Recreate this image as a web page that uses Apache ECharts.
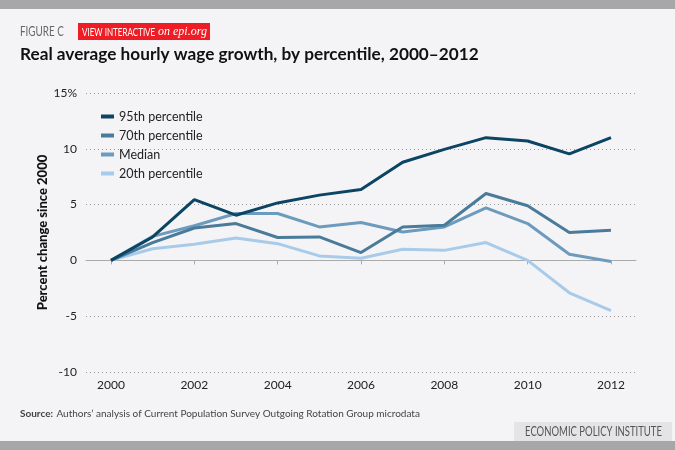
<!DOCTYPE html>
<html><head><meta charset="utf-8">
<script src="https://cdn.jsdelivr.net/npm/echarts@6/dist/echarts.min.js"></script>
<style>html,body{margin:0;padding:0;background:#f4f4f6}#c{width:675px;height:450px}</style>
</head><body><div id="c"></div>
<script>
const years = [2000,2001,2002,2003,2004,2005,2006,2007,2008,2009,2010,2011,2012];
const p95 = [0,2.1,5.45,4.05,5.15,5.85,6.35,8.8,9.95,11.0,10.7,9.55,11.0];
const p70 = [0,1.6,2.9,3.3,2.05,2.1,0.7,3.0,3.15,6.0,4.9,2.5,2.7];
const median = [0,2.15,3.1,4.2,4.2,3.0,3.4,2.55,3.0,4.7,3.3,0.55,-0.1];
const p20 = [0,1.05,1.45,2.0,1.5,0.4,0.2,1.0,0.9,1.6,0.0,-2.9,-4.5];
const seriesNames = ['95th percentile','70th percentile','Median','20th percentile'];
const xTickLabels = [2000,2002,2004,2006,2008,2010,2012];
const colors = ['#0c4464','#4a7b9b','#6d9bbd','#a8cbea'];
const FONT = 'Lato, "Open Sans", sans-serif';

function pairs(vals){ return years.map((y,i)=>[y, vals[i]]); }
const allVals = [p95,p70,median,p20];

const chart = echarts.init(document.getElementById('c'), null, {renderer:'canvas'});
chart.setOption({
  backgroundColor: '#f4f4f6',
  animation: false,
  color: colors,
  textStyle: {fontFamily: FONT},
  grid: {left: 86, right: 39, top: 93, bottom: 78},
  legend: {
    orient: 'vertical', left: 96, top: 105,
    data: seriesNames, icon: 'rect', itemWidth: 13, itemHeight: 4, itemGap: 6,
    textStyle: {fontFamily: FONT, fontSize: 12.5, color: '#222'}
  },
  xAxis: {
    type: 'value', min: 1999.4, max: 2012.6,
    axisLine: {show: true, lineStyle: {color: '#aaaaaa', width: 1}},
    axisTick: {show: true, customValues: xTickLabels, length: 4, lineStyle: {color: '#aaaaaa'}},
    axisLabel: {customValues: xTickLabels, formatter: v => String(v), fontFamily: FONT, fontSize: 12, color: '#222', margin: 7},
    splitLine: {show: false}
  },
  yAxis: {
    type: 'value', min: -10, max: 15, interval: 5,
    axisLine: {show: false}, axisTick: {show: false},
    axisLabel: {formatter: v => v === 15 ? '15%' : String(v), fontFamily: FONT, fontSize: 12, color: '#222', margin: 9},
    splitLine: {show: true, lineStyle: {color: '#9a9a9a', type: [1, 3], width: 1}},
    name: 'Percent change since 2000', nameLocation: 'middle', nameGap: 37, nameMoveOverlap: false,
    nameTextStyle: {fontFamily: FONT, fontWeight: 900, fontSize: 13, color: '#111'}
  },
  series: seriesNames.map((n,i)=>({
    name: n, type: 'line', data: pairs(allVals[i]), showSymbol: false, symbol: 'none',
    lineStyle: {width: 3, color: colors[i]}, z: 10 - i
  })),
  graphic: [
    {type: 'rect', x: 0, y: 0, shape: {width: 675, height: 9}, style: {fill: '#a7a7aa'}},
    {type: 'rect', x: 0, y: 441, shape: {width: 675, height: 9}, style: {fill: '#a7a7aa'}},
    {type: 'text', x: 20, y: 31.5, scaleX: 0.76, style: {text: 'FIGURE C', font: '13px ' + FONT, fill: '#666', verticalAlign: 'middle'}},
    {type: 'rect', x: 78, y: 23, shape: {width: 132, height: 17}, style: {fill: '#ee1c24'}},
    {type: 'text', x: 82, y: 32, scaleX: 0.73, style: {text: 'VIEW INTERACTIVE', font: '11px ' + FONT, fill: '#fff', verticalAlign: 'middle'}},
    {type: 'text', x: 158, y: 32, style: {text: 'on epi.org', font: 'italic 12px "Liberation Serif", serif', fill: '#fff', verticalAlign: 'middle'}},
    {type: 'text', x: 20, y: 54.5, style: {text: 'Real average hourly wage growth, by percentile, 2000\u20132012', font: 'bold 17.2px ' + FONT, fill: '#111', verticalAlign: 'middle'}},
    {type: 'text', x: 20, y: 414, style: {
      text: '{a|Source:} {b|Authors\u2019 analysis of Current Population Survey Outgoing Rotation Group microdata}', verticalAlign: 'middle',
      rich: {a: {fontFamily: FONT, fontWeight: 'bold', fontSize: 10, fill: '#444'},
             b: {fontFamily: FONT, fontSize: 10, fill: '#444'}}}},
    {type: 'rect', x: 514, y: 422, shape: {width: 158, height: 19}, style: {fill: '#e4e4e6'}},
    {type: 'text', x: 593.5, y: 431.5, scaleX: 0.76, style: {text: 'ECONOMIC POLICY INSTITUTE', font: '12.5px ' + FONT, fill: '#555', align: 'center', verticalAlign: 'middle'}}
  ]
});
</script></body></html>
